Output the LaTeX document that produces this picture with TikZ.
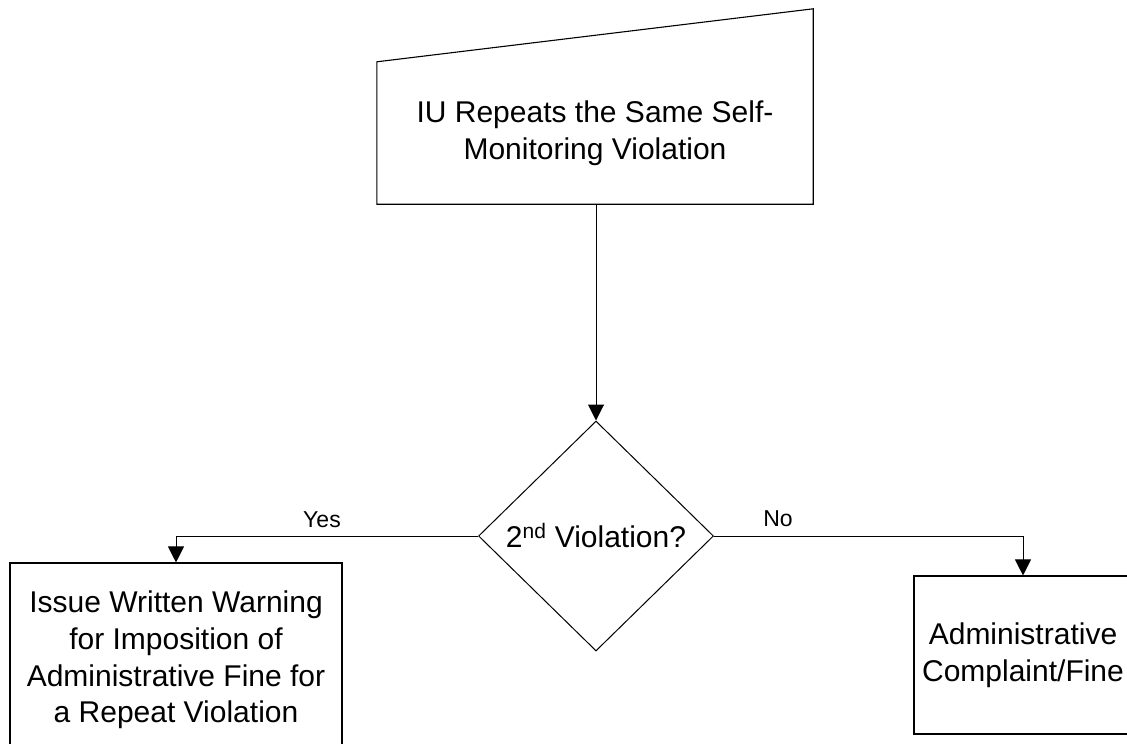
\documentclass[tikz,border=0pt]{standalone}
\usepackage{fontspec}
\setmainfont{Liberation Sans}
\usetikzlibrary{arrows.meta,shapes.geometric}

\tikzset{
  boxtext/.style={font=\fontsize{30}{36.6}\selectfont, align=center, inner sep=0pt},
  procbox/.style={boxtext, draw, line width=1.1pt, rectangle},
  decision/.style={boxtext, draw, line width=1pt, diamond, aspect=1.02},
  flow/.style={line width=1pt, -{Triangle[length=16pt,width=16pt]}},
  branchlabel/.style={font=\fontsize{23}{27}\selectfont, inner sep=0pt}
}

\begin{document}
\begin{tikzpicture}[x=1pt, y=-1pt]
  \useasboundingbox (0,0) rectangle (1127,744);

  % manual input: text node plus its sloped-top outline
  \node[boxtext, minimum width=436pt, minimum height=142pt] (src) at (595,133)
    {IU Repeats the Same Self-\\Monitoring Violation};
  \draw[line width=1.1pt]
    (src.south west) -- (src.south east) -- ([yshift=53pt]src.north east)
    -- (src.north west) -- cycle;

  % decision
  \node[decision, minimum width=235pt, minimum height=230pt] (dec) at (596,536)
    {2\textsuperscript{nd} Violation?};

  % outcomes
  \node[procbox, minimum width=332pt, minimum height=194pt] (warn) at (176,660)
    {Issue Written Warning\\for Imposition of\\Administrative Fine for\\a Repeat Violation};
  \node[procbox, minimum width=218pt, minimum height=158pt] (fine) at (1023,655)
    {Administrative\\Complaint/Fine};

  % connectors
  \draw[flow] (src.south -| dec.north) -- (dec.north);
  \draw[flow] (dec.west) -| (warn.north);
  \draw[flow] (dec.east) -| (fine.north);

  % branch labels
  \node[branchlabel] (yes) at (322,520) {Yes};
  \node[branchlabel] (no) at (778,519) {No};
\end{tikzpicture}
\end{document}
